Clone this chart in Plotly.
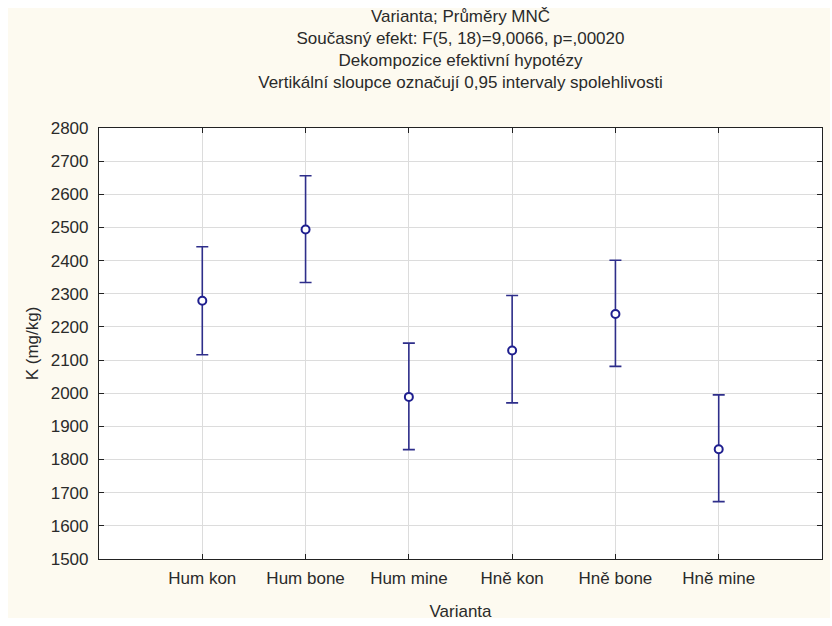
import plotly.graph_objects as go

categories = ["Hum kon", "Hum bone", "Hum mine", "Hně kon", "Hně bone", "Hně mine"]
means = [2279, 2494, 1989, 2129, 2239, 1831]
ci_lower = [2116, 2334, 1830, 1971, 2081, 1673]
ci_upper = [2442, 2656, 2151, 2295, 2401, 1995]
y_ticks = [1500, 1600, 1700, 1800, 1900, 2000, 2100, 2200, 2300, 2400, 2500, 2600, 2700, 2800]

err_plus = [u - m for u, m in zip(ci_upper, means)]
err_minus = [m - l for m, l in zip(means, ci_lower)]

FONT = "Liberation Sans, Arial, sans-serif"
TXT = "#2a2a2a"
NAVY = "#1f1f8f"

fig = go.Figure()
fig.add_trace(go.Scatter(
    x=categories, y=means, mode="markers",
    marker=dict(symbol="circle", size=8, color="white", line=dict(color=NAVY, width=2)),
    error_y=dict(type="data", symmetric=False, array=err_plus, arrayminus=err_minus,
                 color="#2e2e8a", thickness=1.6, width=6),
    showlegend=False,
))

W, H = 832, 626
L, R, T, B = 99, 10, 128, 67
pw, ph = W - L - R, H - T - B

def px2x(px):
    return (px - L) / pw

def py2y(py):
    return (H - B - py) / ph

fig.add_shape(type="rect", xref="paper", yref="paper", layer="below",
              x0=px2x(8), x1=px2x(830), y0=py2y(618), y1=py2y(8),
              fillcolor="#fdfaf0", line=dict(width=0))
fig.add_shape(type="rect", xref="paper", yref="paper", layer="below",
              x0=0, x1=1, y0=0, y1=1, fillcolor="white", line=dict(width=0))

fig.update_layout(
    width=W, height=H,
    margin=dict(l=L, r=R, t=T, b=B),
    paper_bgcolor="white", plot_bgcolor="white",
    font=dict(family=FONT, size=17, color=TXT),
    title=dict(
        text="Varianta; Průměry MNČ<br>Současný efekt: F(5, 18)=9,0066, p=,00020<br>"
             "Dekompozice efektivní hypotézy<br>Vertikální sloupce označují 0,95 intervaly spolehlivosti",
        x=0.5, xref="paper", xanchor="center",
        y=1 - 22 / H, yref="container", yanchor="top",
        font=dict(family=FONT, size=17, color=TXT),
    ),
    xaxis=dict(
        type="category", categoryorder="array", categoryarray=categories,
        range=[-1, 6],
        showgrid=True, gridcolor="#dcdcdc", gridwidth=1.2,
        showline=True, linecolor="#222", linewidth=1.2, mirror="allticks",
        ticks="inside", ticklen=5, tickcolor="#222",
        tickfont=dict(size=17, color=TXT), ticklabelstandoff=3,
        title=dict(text="Varianta", font=dict(size=17, color=TXT), standoff=18),
        zeroline=False,
    ),
    yaxis=dict(
        range=[1500, 2800], tickvals=y_ticks,
        showgrid=True, gridcolor="#dcdcdc", gridwidth=1.2,
        showline=True, linecolor="#222", linewidth=1.2, mirror="allticks",
        ticks="inside", ticklen=5, tickcolor="#222",
        tickfont=dict(size=17, color=TXT), ticklabelstandoff=6,
        title=dict(text="K (mg/kg)", font=dict(size=17, color=TXT), standoff=7),
        zeroline=False,
    ),
)

fig.write_html("out.html")
